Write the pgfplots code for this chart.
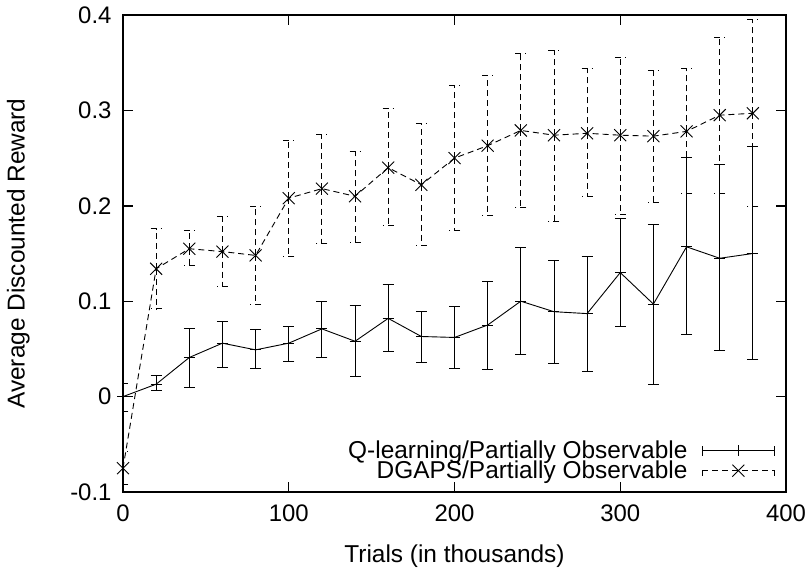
\documentclass[border=0pt]{standalone}
\usepackage{pgfplots}
\pgfplotsset{compat=1.18}
\usepackage{pgfplotstable}
\usepackage{fontspec}
\setmainfont{Liberation Sans}

% Q-learning: trial (thousands), mean reward, lower and upper end of the error bar
\pgfplotstableread{
x    y      lo      hi
0    0.000  -0.016  0.014
20   0.013  0.006   0.022
40   0.041  0.010   0.071
60   0.056  0.031   0.079
80   0.049  0.029   0.070
100  0.056  0.037   0.074
120  0.071  0.041   0.100
140  0.058  0.021   0.096
160  0.082  0.047   0.118
180  0.063  0.036   0.089
200  0.062  0.029   0.095
220  0.075  0.028   0.121
240  0.100  0.044   0.156
260  0.089  0.035   0.143
280  0.087  0.026   0.147
300  0.130  0.074   0.187
320  0.097  0.013   0.180
340  0.157  0.065   0.251
360  0.145  0.048   0.243
380  0.150  0.039   0.262
}\qlearn

% DGAPS: same layout
\pgfplotstableread{
x    y       lo      hi
0    -0.075  -0.092  -0.058
20   0.134   0.092   0.176
40   0.155   0.137   0.174
60   0.152   0.115   0.189
80   0.148   0.097   0.199
100  0.208   0.147   0.269
120  0.218   0.161   0.275
140  0.210   0.162   0.257
160  0.240   0.179   0.302
180  0.222   0.158   0.286
200  0.250   0.174   0.326
220  0.263   0.190   0.337
240  0.279   0.198   0.360
260  0.274   0.184   0.363
280  0.276   0.210   0.344
300  0.274   0.191   0.356
320  0.273   0.203   0.342
340  0.278   0.213   0.344
360  0.295   0.213   0.376
380  0.297   0.199   0.395
}\dgaps

\newcommand\labelfont{\fontsize{24.5}{26}\selectfont}
\newcommand\tickfont{\fontsize{24}{26}\selectfont}

\begin{document}
\begin{tikzpicture}
\begin{axis}[
  scale only axis,
  width=663bp, height=477bp,
  xmin=0, xmax=400, ymin=-0.1, ymax=0.4,
  xtick={0,100,200,300,400},
  ytick={-0.1,0,0.1,0.2,0.3,0.4},
  yticklabels={-0.1,0,0.1,0.2,0.3,0.4},
  /pgf/number format/assume math mode=true,
  tick label style={font=\tickfont},
  label style={font=\labelfont},
  tick align=inside, tick pos=both,
  major tick length=10bp,
  minor tick num=0,
  axis line style={line width=1.6bp, black},
  every tick/.style={line width=1.4bp, black},
  xticklabel style={yshift=-9bp},
  yticklabel style={xshift=-8bp},
  xlabel={Trials (in thousands)},
  ylabel={Average Discounted Reward},
  xlabel style={at={(axis description cs:0.5,-0.134)}, anchor=center},
  ylabel style={at={(axis description cs:-0.158,0.5)}, anchor=center},
  clip=true,
  legend cell align=right,
  legend plot pos=right,
  legend style={draw=none, fill=none, inner sep=0pt, row sep=0bp,
    at={(axis description cs:1,0)}, anchor=south east, xshift=-11bp, yshift=11bp,
    nodes={inner sep=0.5bp, font=\labelfont},
    /tikz/every odd column/.append style={column sep=14bp}},
  legend image code/.code={
    \draw[#1, mark=none] (0bp,0bp) -- (72bp,0bp);
    \draw[#1, mark=none] (0bp,-5bp) -- (0bp,5bp);
    \draw[#1, mark=none] (72bp,-5bp) -- (72bp,5bp);
    \draw[#1, only marks] plot coordinates {(36bp,0bp)};
  },
]
\addplot[black, line width=0.9bp, mark=+, mark size=5.5bp,
  error bars/.cd, y dir=both, y explicit,
  error bar style={line width=0.9bp, black},
  error mark options={rotate=90, black, mark size=5.5bp, line width=0.9bp}]
  table[x=x, y=y,
        y error plus expr=\thisrow{hi}-\thisrow{y},
        y error minus expr=\thisrow{y}-\thisrow{lo}] {\qlearn};
\addlegendentry{Q-learning/Partially Observable}

\addplot[black, line width=0.9bp, dash pattern=on 6bp off 4bp,
  mark=x, mark size=8.5bp, mark options={solid},
  error bars/.cd, y dir=both, y explicit,
  error bar style={line width=0.9bp, black, dash pattern=on 6bp off 4bp},
  error mark options={rotate=90, black, mark size=5.5bp, line width=0.9bp, dash pattern=on 6bp off 4bp}]
  table[x=x, y=y,
        y error plus expr=\thisrow{hi}-\thisrow{y},
        y error minus expr=\thisrow{y}-\thisrow{lo}] {\dgaps};
\addlegendentry{DGAPS/Partially Observable}
\end{axis}
\pgfresetboundingbox
\useasboundingbox (current axis.south west) ++(-123bp,-80bp) rectangle ++(808bp,572bp);
\end{tikzpicture}
\end{document}
